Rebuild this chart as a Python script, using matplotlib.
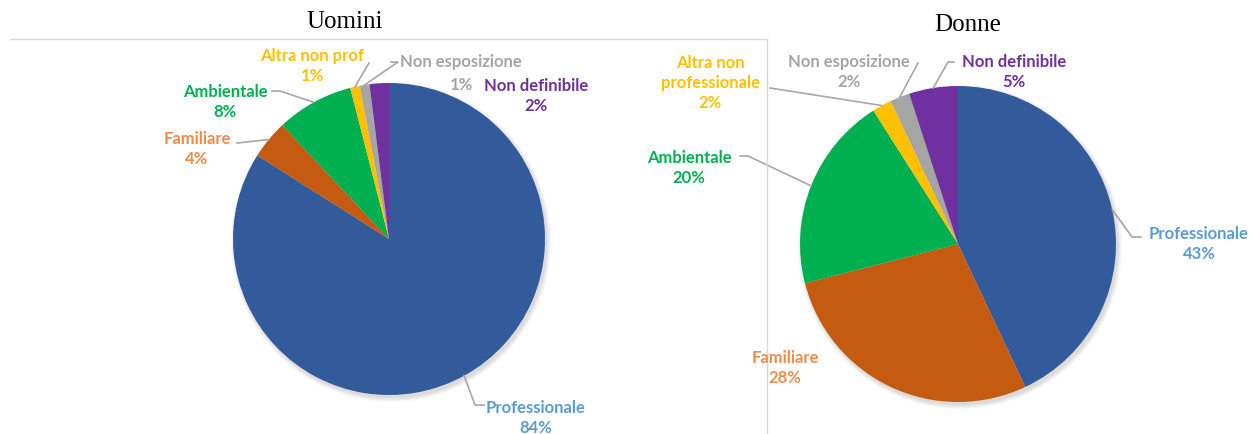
# Uomini / Donne - pie charts
import matplotlib.pyplot as plt
import numpy as np

categorie = ['Professionale', 'Familiare', 'Ambientale',
             'Altra non prof', 'Non esposizione', 'Non definibile']
nomi_donne = ['Professionale', 'Familiare', 'Ambientale',
              'Altra non\nprofessionale', 'Non esposizione', 'Non definibile']
uomini = [84, 4, 8, 1, 1, 2]
donne = [43, 28, 20, 2, 2, 5]

colori = ['#335A9A', '#C55A11', '#00B050', '#FFC000', '#A5A5A5', '#7030A0']
colori_testo = ['#5B9BD5', '#ED8C4A', '#00B050', '#FFC000', '#A5A5A5', '#7030A0']

W, H = 1254, 435
fig = plt.figure(figsize=(W / 100, H / 100), dpi=100)
ax = fig.add_axes([0, 0, 1, 1])
ax.set_xlim(0, W)
ax.set_ylim(0, H)
ax.axis('off')

def Y(y):  # image row -> data y
    return H - y

# box lines of the left chart area
ax.plot([10, 767], [Y(40), Y(40)], color='#D9D9D9', lw=1)
ax.plot([767, 767], [Y(40), 0], color='#D9D9D9', lw=1)

font = dict(family=['Lato', 'DejaVu Sans'], fontweight='bold', fontsize=12)

# layout: label centre (x, y image), leader elbows (x, y image) or None
lay_uomini = [
    ((536, 418), (475, 406), (484, 406)),
    ((197, 149), (237, 144), None),
    ((225, 102), (280, 92), (272, 92)),
    ((312, 66), (369, 64), None),
    (None, (398, 63), (391, 63)),
    ((536, 96), None, None),
]
lay_donne = [
    ((1199, 244), (1132, 238), (1141, 238)),
    ((785, 368), None, None),
    ((689, 168), (748, 157), (740, 157)),
    ((710, 83), (770, 89), None),
    ((849, 72), (918, 64), None),
    ((1014, 72), (948, 63), (954, 63)),
]

def torta(valori, nomi, centro, r, layout):
    cx, cy = centro[0], Y(centro[1])
    # soft shadow
    for k in range(6):
        ax.add_patch(plt.Circle((cx + 2, cy - 3), r + 4 - k * 0.8,
                                color='black', alpha=0.025, lw=0))
    ax.pie(valori, colors=colori, startangle=90, counterclock=False,
           center=(cx, cy), radius=r, frame=True,
           wedgeprops=dict(linewidth=0))
    cum = np.cumsum([0] + valori)
    tot = float(sum(valori))
    for i, (nome, v) in enumerate(zip(nomi, valori)):
        mid = (cum[i] + cum[i + 1]) / 2 / tot
        ang = np.deg2rad(90 - 360 * mid)
        px, py = cx + r * np.cos(ang), cy + r * np.sin(ang)
        pos, e1, e2 = layout[i]
        if e1 is not None:
            xs, ys = [px, e1[0]], [py, Y(e1[1])]
            if e2 is not None:
                xs.append(e2[0]); ys.append(Y(e2[1]))
            ax.plot(xs, ys, color='#A6A6A6', lw=1.2, zorder=1)
        if pos is not None:
            ax.text(pos[0], Y(pos[1]), f'{nome}\n{v}%', ha='center', va='center',
                    color=colori_testo[i], linespacing=1.3, **font)

torta(uomini, categorie, (389, 240), 156, lay_uomini)
torta(donne, nomi_donne, (958, 245), 158, lay_donne)

# Non esposizione (uomini) has its two lines offset
ax.text(400, Y(62), 'Non esposizione', ha='left', va='center',
        color=colori_testo[4], **font)
ax.text(473, Y(85), '1%', ha='right', va='center', color=colori_testo[4], **font)

ax.set_xlim(0, W)
ax.set_ylim(0, H)
ax.set_aspect('equal')

tfont = dict(family=['Liberation Serif', 'DejaVu Serif'], fontsize=18)
ax.text(345, Y(22), 'Uomini', ha='center', va='center', **tfont)
ax.text(968, Y(25), 'Donne', ha='center', va='center', **tfont)

fig.savefig('out.png', dpi=100)
